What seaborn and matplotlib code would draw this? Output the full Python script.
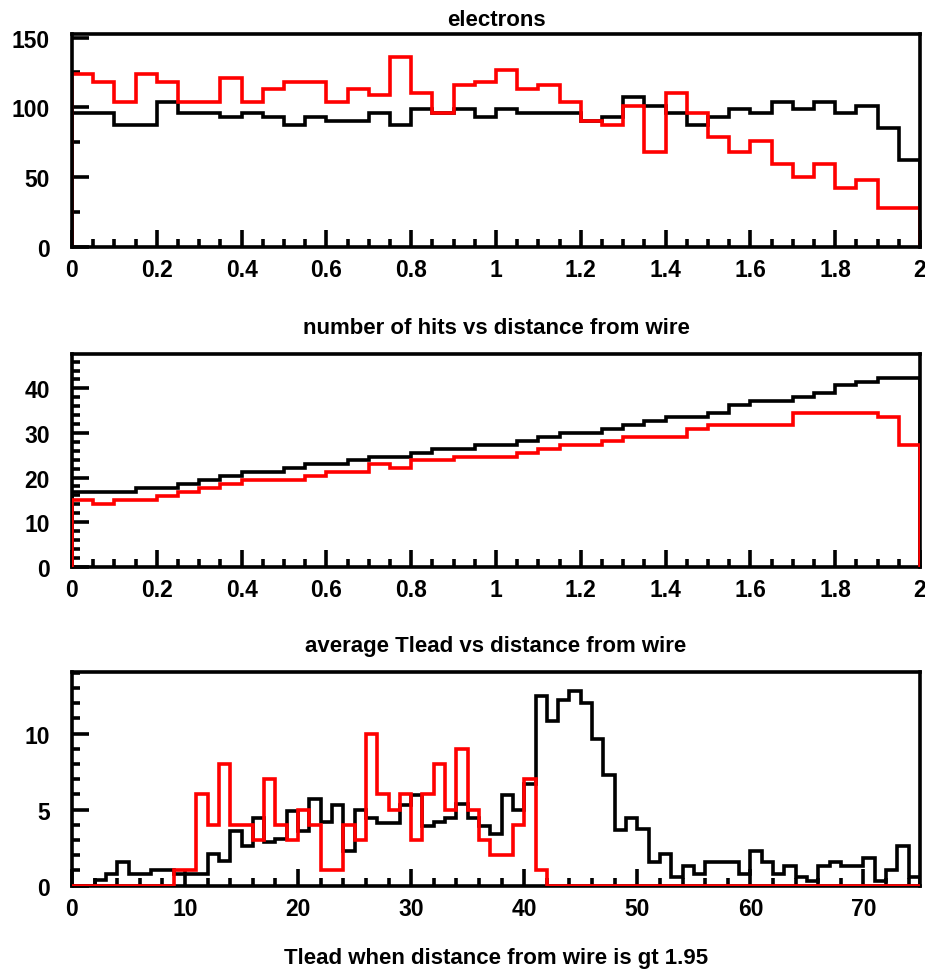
import numpy as np
import matplotlib
matplotlib.use("Agg")
import matplotlib.pyplot as plt
from matplotlib.ticker import MultipleLocator, FuncFormatter
import seaborn as sns

sns.set_theme(style="white")
plt.rcParams["font.family"] = ["Liberation Sans", "DejaVu Sans"]
plt.rcParams["font.weight"] = "bold"

# ---- binning -------------------------------------------------------------
DIST_EDGES = np.linspace(0.0, 2.0, 41)      # distance from wire, 40 bins
TLEAD_EDGES = np.arange(0, 76)              # Tlead, 75 bins of width 1
dist_centers = (DIST_EDGES[:-1] + DIST_EDGES[1:]) / 2
tlead_centers = (TLEAD_EDGES[:-1] + TLEAD_EDGES[1:]) / 2

# ---- number of hits vs distance from wire ----------------------------------
hits_all = [96, 96, 87, 87, 104, 96, 96, 93, 96, 93,
            87, 93, 90, 90, 96, 87, 99, 96, 99, 93,
            99, 96, 96, 96, 90, 93, 107, 101, 96, 87,
            93, 99, 96, 104, 99, 104, 96, 101, 85, 62]
hits_red = [124, 118, 104, 124, 118, 104, 104, 121, 104, 113,
            118, 118, 104, 113, 109, 136, 110, 96, 116, 118,
            127, 113, 116, 104, 90, 87, 101, 68, 110, 96,
            79, 68, 76, 59, 50, 59, 42, 48, 28, 28]

# ---- average Tlead vs distance from wire -----------------------------------
avg_all = [16.8, 16.8, 16.8, 17.7, 17.7, 18.6, 19.5, 20.4, 21.3, 21.3,
           22.2, 23.1, 23.1, 24.0, 24.7, 24.7, 25.6, 26.5, 26.5, 27.4,
           27.4, 28.3, 29.2, 30.1, 30.1, 30.9, 31.8, 32.7, 33.6, 33.6,
           34.5, 36.3, 37.2, 37.2, 38.1, 39.0, 40.7, 41.5, 42.4, 42.4]
avg_red = [15.0, 14.1, 15.0, 15.0, 15.9, 16.8, 17.7, 18.6, 19.5, 19.5,
           19.5, 20.4, 21.3, 21.3, 23.1, 22.2, 24.0, 24.0, 24.7, 24.7,
           24.7, 25.6, 26.5, 27.4, 27.4, 28.3, 29.2, 29.2, 29.2, 30.9,
           31.8, 31.8, 31.8, 31.8, 34.5, 34.5, 34.5, 34.5, 33.6, 27.4]

# ---- Tlead when distance from wire is gt 1.95 -----------------------------
tlead_all = [0, 0, 0.4, 0.77, 1.54, 0.77, 0.77, 1.0, 1.0, 0.77,
             0.77, 0.77, 2.1, 1.6, 3.6, 2.6, 4.45, 2.86, 3.1, 4.9,
             3.6, 5.7, 4.2, 5.3, 2.3, 5.0, 4.45, 4.1, 4.1, 5.3,
             5.95, 3.9, 4.2, 4.45, 5.4, 4.45, 3.9, 3.37, 5.95, 4.96,
             6.7, 12.5, 10.86, 12.2, 12.8, 12.0, 9.65, 7.27, 3.63, 4.45,
             3.7, 1.54, 2.1, 0.55, 1.28, 0.8, 1.54, 1.54, 1.54, 0.8,
             2.3, 1.54, 0.8, 1.28, 0.55, 0.3, 1.28, 1.54, 1.28, 1.28,
             1.8, 0.3, 1.0, 2.6, 0.55]
tlead_red = [0, 0, 0, 0, 0, 0, 0, 0, 0, 1,
             1, 6, 4, 8, 4, 4, 3, 7, 4, 3,
             5, 4, 1, 1, 4, 3, 10, 6, 5, 6,
             3, 6, 8, 5, 9, 5, 3, 2, 2, 4,
             7, 1, 0, 0, 0, 0, 0, 0, 0, 0,
             0, 0, 0, 0, 0, 0, 0, 0, 0, 0,
             0, 0, 0, 0, 0, 0, 0, 0, 0, 0,
             0, 0, 0, 0, 0]

LW = 2.6
FS = 16.5


def outline_hist(ax, centers, values, edges, color, z=3):
    """Step outline of a histogram; an empty bin is added on each side so the
    outline drops to zero at both ends of the range (clipped by the frame)."""
    w = float(edges[1] - edges[0])
    bins = [float(edges[0]) - w] + [float(e) for e in edges] + [float(edges[-1]) + w]
    sns.histplot(x=list(centers), weights=list(values), bins=bins,
                 element="step", fill=False, color=color, linewidth=LW,
                 solid_joinstyle="miter", zorder=z, ax=ax)


def style_axes(ax, xlim, ylim, xmajor, xminor, ymajor, yminor, label, label_y):
    ax.set_xlim(*xlim)
    ax.set_ylim(*ylim)
    ax.xaxis.set_major_locator(MultipleLocator(xmajor))
    ax.xaxis.set_minor_locator(MultipleLocator(xminor))
    ax.yaxis.set_major_locator(MultipleLocator(ymajor))
    ax.yaxis.set_minor_locator(MultipleLocator(yminor))
    ax.xaxis.set_major_formatter(FuncFormatter(lambda v, p: f"{v:g}"))
    ax.yaxis.set_major_formatter(FuncFormatter(lambda v, p: f"{v:g}"))
    for sp in ax.spines.values():
        sp.set_visible(True)
        sp.set_linewidth(LW)
        sp.set_color("black")
    ax.tick_params(which="both", direction="in", width=LW, color="black",
                   labelsize=FS, labelcolor="black",
                   bottom=True, left=True, top=False, right=False)
    ax.tick_params(which="major", length=12.5)
    ax.tick_params(which="minor", length=6)
    ax.tick_params(axis="x", which="both", pad=8)
    ax.tick_params(axis="y", which="both", pad=16)
    ax.grid(False)
    ax.set_ylabel("")
    ax.set_xlabel(label, fontsize=16, fontweight="bold", color="black")
    ax.xaxis.set_label_coords(0.5, label_y)


fig = plt.figure(figsize=(9.25, 9.7), dpi=100)
ax1 = fig.add_axes([0.0778, 0.7446, 0.9168, 0.2193])
ax2 = fig.add_axes([0.0778, 0.4147, 0.9168, 0.2193])
ax3 = fig.add_axes([0.0778, 0.0859, 0.9168, 0.2203])

# top panel: the frame is drawn over the outlines
outline_hist(ax1, dist_centers, hits_all, DIST_EDGES, "black", z=2)
outline_hist(ax1, dist_centers, hits_red, DIST_EDGES, "red", z=2)
style_axes(ax1, (0, 2), (0, 152.5), 0.2, 0.05, 50, 25,
           "number of hits vs distance from wire", -0.33)
ax1.set_title("electrons", fontsize=16, fontweight="bold", color="black", pad=6.5)

outline_hist(ax2, dist_centers, avg_all, DIST_EDGES, "black")
outline_hist(ax2, dist_centers, avg_red, DIST_EDGES, "red")
style_axes(ax2, (0, 2), (0, 47.7), 0.2, 0.05, 10, 2,
           "average Tlead vs distance from wire", -0.32)

outline_hist(ax3, tlead_centers, tlead_all, TLEAD_EDGES, "black")
outline_hist(ax3, tlead_centers, tlead_red, TLEAD_EDGES, "red")
style_axes(ax3, (0, 75), (0, 14.05), 10, 2, 5, 1,
           "Tlead when distance from wire is gt 1.95", -0.285)

fig.savefig("out.png", dpi=100)
